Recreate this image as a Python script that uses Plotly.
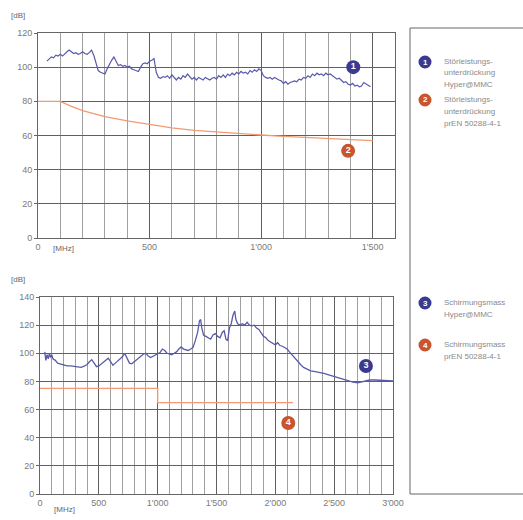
import plotly.graph_objects as go

W, H = 523, 520

# ---------------- data ----------------
s1_x = [40, 50, 60, 70, 80, 90, 100, 110, 120, 130, 140, 150, 160, 170, 180, 190, 200, 210, 220, 230,
        240, 250, 260, 270, 280, 290, 300, 310, 320, 330, 340, 350, 360, 370, 380, 390, 400, 410, 420, 430,
        440, 450, 460, 470, 480, 490, 500, 510, 520, 525, 530, 540, 550, 560, 570, 580, 590, 600, 610, 620,
        630, 640, 650, 660, 670, 680, 690, 700, 710, 720, 730, 740, 750, 760, 770, 780, 790, 800, 810, 820,
        830, 840, 850, 860, 870, 880, 890, 900, 910, 920, 930, 940, 950, 960, 970, 980, 990, 1000, 1010, 1020,
        1030, 1040, 1050, 1060, 1070, 1080, 1090, 1100, 1110, 1120, 1130, 1140, 1150, 1160, 1170, 1180, 1190, 1200, 1210, 1220,
        1230, 1240, 1250, 1260, 1270, 1280, 1290, 1300, 1310, 1320, 1330, 1340, 1350, 1360, 1370, 1380, 1390, 1400, 1410, 1420,
        1430, 1440, 1450, 1460, 1470, 1480, 1490]
s1_y = [103.5, 105, 106, 105.5, 107, 106.5, 107.5, 106.5, 108, 109, 110, 109, 108, 108.5, 107.5, 108, 109, 108, 107.5, 108.5,
        110, 107, 103, 98, 97, 96.5, 96, 99, 102, 104, 106, 103, 101, 101.5, 100.5, 101, 100, 100.5, 99, 98.5,
        98, 97.5, 100, 102, 102.5, 102, 103.5, 104, 105, 102, 97, 94, 93.5, 94.5, 94, 95, 93.5, 95.5, 94, 92.5,
        94, 93, 95, 94, 96, 94.5, 93, 94, 92.5, 94, 93, 92.5, 94, 93, 92.5, 93.5, 94, 93, 95, 94,
        95.5, 94, 96, 95, 96.5, 95.5, 97, 96, 97.5, 96.5, 97, 96, 98, 97, 98.5, 97.5, 99, 98, 95, 94,
        93.5, 94, 93, 94, 93, 92.5, 92, 90.5, 91.5, 90, 91, 91.5, 92, 91.5, 93, 92.5, 94, 93.5, 95, 94,
        96, 95, 96.5, 95.5, 96, 95, 96.5, 95.5, 96, 95, 94, 93, 93.5, 92, 91, 91.5, 90, 89.5, 90.5, 89,
        89.5, 88.5, 89, 91, 90, 89, 88.5]

s2_x = [0, 100, 150, 200, 300, 400, 500, 600, 700, 800, 900, 1000, 1100, 1200, 1300, 1400, 1500]
s2_y = [80, 80, 77, 74.5, 71, 68.5, 66.5, 64.5, 63, 62, 61, 60.3, 59.5, 58.8, 58.2, 57.5, 57]

s3_x = [40, 50, 60, 70, 80, 90, 100, 110, 130, 150, 170, 200, 230, 260, 290, 320, 350, 380, 400, 420,
        440, 460, 480, 500, 520, 540, 560, 580, 600, 620, 640, 660, 680, 700, 720, 740, 760, 780, 800, 820,
        840, 860, 880, 900, 920, 940, 960, 980, 1000, 1020, 1040, 1060, 1080, 1100, 1120, 1140, 1160, 1180, 1200, 1220,
        1240, 1260, 1280, 1300, 1320, 1340, 1355, 1365, 1375, 1390, 1410, 1430, 1450, 1470, 1490, 1510, 1530, 1550, 1565, 1580,
        1595, 1610, 1625, 1640, 1655, 1665, 1680, 1700, 1720, 1740, 1760, 1780, 1800, 1820, 1840, 1860, 1880, 1900, 1920, 1940,
        1960, 1980, 2000, 2020, 2040, 2060, 2080, 2100, 2120, 2140, 2160, 2180, 2200, 2220, 2240, 2260, 2280, 2300, 2340, 2380,
        2420, 2460, 2500, 2540, 2580, 2620, 2660, 2700, 2730, 2760, 2800, 2850, 2900, 2950, 3000]
s3_y = [101, 95, 99, 96, 100, 97, 99, 96, 95, 93, 92.5, 91.5, 91, 91, 90.5, 90, 90, 91, 92, 94,
        95.5, 93, 90.5, 91, 92.5, 93.5, 95, 96.5, 94, 91.5, 93, 94.5, 95.5, 97.5, 100, 97, 93, 92.5, 94, 95.5,
        97, 98.5, 99.5, 100, 98, 97, 98, 98.5, 99.5, 100.5, 103, 102, 100, 99.5, 99, 100, 101, 103, 104.5, 103,
        102.5, 102, 103, 104, 109, 115, 123, 124, 118, 113, 112, 111, 110, 113, 114, 112, 111, 115, 116, 110,
        109, 118, 121, 127, 130, 124, 121, 120, 121, 120, 122, 120, 119.5, 120, 118, 117, 114, 112, 111, 109,
        108, 107, 106, 107.5, 105.5, 105, 104, 103, 101, 99, 97, 95, 93, 91.5, 90, 89, 88, 87.5, 87, 86.5,
        85.5, 84.5, 83.5, 82, 81, 80, 79.5, 79, 79.5, 80.5, 81, 81, 80.8, 80.5, 80.3]

s4_x = [0, 1000, 2150]
s4_y = [75, 65, 65]

top_ticks = [0, 500, 1000, 1500]
top_ticktext = ["0", "500", "1'000", "1'500"]
bot_ticks = [0, 500, 1000, 1500, 2000, 2500, 3000]
bot_ticktext = ["0", "500", "1'000", "1'500", "2'000", "2'500", "3'000"]

tags = ["1", "2", "3", "4"]
tag_x = [1413, 1390, 2770, 2110]
tag_y = [100, 51, 91, 50.5]

legend_lines = [
    ["Störleistungs-", "unterdrückung", "Hyper@MMC"],
    ["Störleistungs-", "unterdrückung", "prEN 50288-4-1"],
    ["Schirmungsmass", "Hyper@MMC"],
    ["Schirmungsmass", "prEN 50288-4-1"],
]

BLUE = "#5a5aaa"
ORANGE = "#f29a72"
NAVY = "#3b3b8e"
RED = "#c9542e"
tag_colors = [NAVY, RED, NAVY, RED]

FONT = "Liberation Sans, Arial, sans-serif"
GRAY = "#7a7a7a"

def px_x(p):
    return p / W

def px_y(p):
    return 1 - p / H

fig = go.Figure()

fig.add_trace(go.Scatter(x=s2_x, y=s2_y, mode="lines", line=dict(color=ORANGE, width=1.3),
                         xaxis="x", yaxis="y", showlegend=False, hoverinfo="skip"))
fig.add_trace(go.Scatter(x=s1_x, y=s1_y, mode="lines", line=dict(color=BLUE, width=1.2),
                         xaxis="x", yaxis="y", showlegend=False))
fig.add_trace(go.Scatter(x=s4_x, y=s4_y, mode="lines", line=dict(color=ORANGE, width=1.3, shape="hv"),
                         xaxis="x2", yaxis="y2", showlegend=False))
fig.add_trace(go.Scatter(x=s3_x, y=s3_y, mode="lines", line=dict(color=BLUE, width=1.3),
                         xaxis="x2", yaxis="y2", showlegend=False))

# numbered tags on the charts
for i in range(4):
    ax = "x" if i < 2 else "x2"
    ay = "y" if i < 2 else "y2"
    fig.add_trace(go.Scatter(x=[tag_x[i]], y=[tag_y[i]], mode="markers+text", text=[tags[i]],
                             textposition="middle center",
                             textfont=dict(color="white", size=9, family="Liberation Sans, Arial", weight="bold"),
                             marker=dict(size=14, color=tag_colors[i], line=dict(color="#ffffff", width=0)),
                             xaxis=ax, yaxis=ay, showlegend=False))

axis_common = dict(
    showline=True, mirror=True, linecolor="#666", linewidth=1,
    tickfont=dict(family=FONT, size=9, color=GRAY),
    zeroline=False, automargin=False,
)

# plot areas (pixels)
top_l, top_r, top_t, top_b = 38, 395, 33, 238
bot_l, bot_r, bot_t, bot_b = 40, 393, 297, 494

fig.update_layout(
    width=W, height=H, margin=dict(l=0, r=0, t=0, b=0, pad=0, autoexpand=False),
    paper_bgcolor="white", plot_bgcolor="white",
    font=dict(family=FONT, color=GRAY),
    xaxis=dict(domain=[px_x(top_l), px_x(top_r)], range=[0, 1600], anchor="y",
               tickmode="array", tickvals=top_ticks, ticktext=top_ticktext,
               showgrid=True, gridcolor="#606060", gridwidth=1.2,
               minor=dict(dtick=100, tick0=0, showgrid=True, gridcolor="#a0a0a0", gridwidth=1),
               ticks="", **axis_common),
    yaxis=dict(domain=[px_y(top_b), px_y(top_t)], range=[0, 120], anchor="x",
               dtick=20, tick0=0, showgrid=True, gridcolor="#606060", gridwidth=1.2,
               ticks="outside", ticklen=3, tickcolor="#666", **axis_common),
    xaxis2=dict(domain=[px_x(bot_l), px_x(bot_r)], range=[0, 3000], anchor="y2",
                tickmode="array", tickvals=bot_ticks, ticktext=bot_ticktext,
                showgrid=True, gridcolor="#606060", gridwidth=1.2,
                minor=dict(dtick=100, tick0=0, showgrid=True, gridcolor="#a0a0a0", gridwidth=1),
                ticks="", **axis_common),
    yaxis2=dict(domain=[px_y(bot_b), px_y(bot_t)], range=[0, 140], anchor="x2",
                dtick=20, tick0=0, showgrid=True, gridcolor="#606060", gridwidth=1.2,
                ticks="outside", ticklen=3, tickcolor="#666", **axis_common),
)

annotations = []
shapes = []

# axis unit labels
annotations.append(dict(text="[dB]", x=px_x(9), y=px_y(15), xref="paper", yref="paper",
                        xanchor="left", yanchor="middle", showarrow=False,
                        font=dict(family=FONT, size=8, color="#666")))
annotations.append(dict(text="[dB]", x=px_x(9), y=px_y(279), xref="paper", yref="paper",
                        xanchor="left", yanchor="middle", showarrow=False,
                        font=dict(family=FONT, size=8, color="#666")))
annotations.append(dict(text="[MHz]", x=px_x(51), y=px_y(248), xref="paper", yref="paper",
                        xanchor="left", yanchor="middle", showarrow=False,
                        font=dict(family=FONT, size=8, color="#666")))
annotations.append(dict(text="[MHz]", x=px_x(52), y=px_y(509), xref="paper", yref="paper",
                        xanchor="left", yanchor="middle", showarrow=False,
                        font=dict(family=FONT, size=8, color="#666")))

# legend box (right side runs off the page)
shapes.append(dict(type="rect", xref="paper", yref="paper",
                   x0=px_x(410), x1=px_x(540), y0=px_y(494), y1=px_y(28),
                   line=dict(color="#666", width=1), fillcolor="rgba(0,0,0,0)"))

legend_circle_y = [62, 100, 303, 345]
for i in range(4):
    cy = legend_circle_y[i]
    shapes.append(dict(type="circle", xref="paper", yref="paper",
                       xsizemode="pixel", ysizemode="pixel",
                       xanchor=px_x(425), yanchor=px_y(cy),
                       x0=-6.5, x1=6.5, y0=-6.5, y1=6.5,
                       fillcolor=tag_colors[i], line=dict(color=tag_colors[i], width=0)))
    annotations.append(dict(text="<b>" + tags[i] + "</b>", x=px_x(425), y=px_y(cy), xref="paper", yref="paper",
                            xanchor="center", yanchor="middle", showarrow=False,
                            font=dict(family=FONT, size=8, color="white")))
    for j, line in enumerate(legend_lines[i]):
        annotations.append(dict(text=line, x=px_x(442), y=px_y(cy - 1 + j * 12), xref="paper", yref="paper",
                                xanchor="left", yanchor="middle", showarrow=False,
                                font=dict(family=FONT, size=8, color="#8a8a8a")))

fig.update_layout(annotations=annotations, shapes=shapes)

fig.write_html("out.html", config={"displayModeBar": False},
               post_script="document.body.style.margin='0';document.body.style.padding='0';")
